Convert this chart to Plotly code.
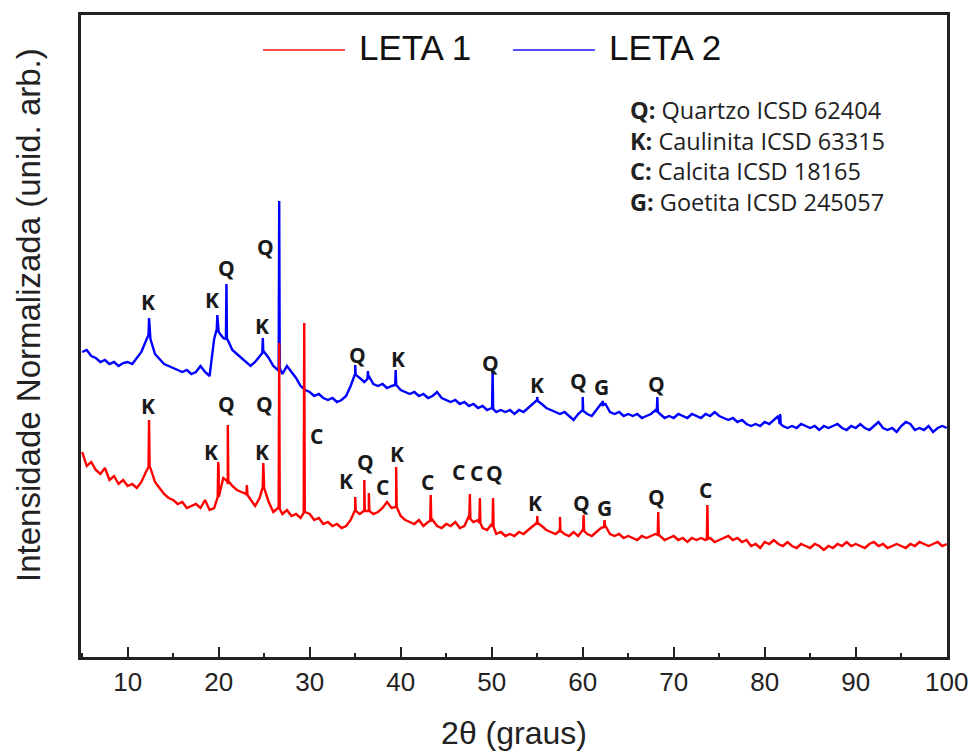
import numpy as np
import plotly.graph_objects as go

# ---------------- data (arbitrary normalised intensity units) ----------------
two_theta_start = 5.0
two_theta_step = 0.5

# LETA 1 background pattern, 5.0 .. 100.0 step 0.5
leta1_base = [
    205, 191, 195, 187, 183, 189, 177, 181, 173, 177,
    171, 173, 169, 175, 185, 189, 175, 169, 163, 159,
    157, 153, 155, 149, 151, 153, 149, 157, 147, 149,
    187, 179, 173, 171, 167, 165, 163, 157, 151, 159,
    169, 155, 145, 149, 143, 147, 141, 143, 139, 145,
    143, 137, 139, 133, 135, 131, 133, 129, 131, 137,
    147, 143, 145, 147, 143, 145, 149, 155, 149, 151,
    141, 137, 135, 133, 137, 131, 135, 137, 131, 129,
    133, 131, 135, 129, 131, 141, 135, 137, 129, 127,
    133, 123, 125, 121, 123, 121, 125, 123, 127, 131,
    137, 131, 127, 125, 123, 129, 123, 121, 125, 121,
    127, 123, 121, 125, 129, 131, 123, 121, 123, 119,
    121, 119, 117, 121, 119, 121, 123, 121, 117, 119,
    121, 117, 119, 115, 119, 117, 119, 117, 119, 115,
    117, 119, 121, 117, 119, 115, 117, 111, 113, 109,
    115, 113, 117, 113, 111, 115, 111, 109, 113, 111,
    109, 113, 111, 107, 111, 109, 113, 111, 115, 111,
    113, 111, 109, 113, 115, 111, 113, 109, 111, 113,
    111, 109, 113, 111, 115, 113, 111, 113, 115, 111,
    113,
]

# LETA 2 background pattern, 5.0 .. 100.0 step 0.5
leta2_base = [
    305, 307, 301, 299, 295, 297, 293, 295, 291, 294,
    295, 293, 299, 305, 316, 318, 303, 298, 293, 291,
    289, 287, 285, 287, 283, 285, 291, 285, 281, 318,
    325, 319, 317, 307, 303, 299, 295, 291, 295, 301,
    305, 299, 291, 287, 283, 291, 285, 279, 271, 267,
    265, 261, 263, 259, 257, 259, 255, 257, 261, 271,
    283, 279, 275, 281, 273, 271, 273, 269, 271, 273,
    267, 265, 263, 265, 261, 263, 259, 261, 265, 259,
    257, 255, 257, 253, 255, 251, 253, 249, 251, 247,
    249, 245, 247, 245, 247, 243, 247, 245, 249, 253,
    257, 253, 249, 247, 245, 243, 245, 241, 237, 243,
    247, 243, 241, 247, 253, 253, 245, 243, 245, 241,
    243, 241, 243, 239, 241, 243, 247, 243, 239, 241,
    239, 243, 241, 239, 243, 241, 239, 243, 241, 245,
    241, 239, 237, 239, 235, 237, 233, 231, 233, 231,
    235, 233, 237, 241, 231, 229, 231, 229, 233, 231,
    229, 231, 227, 231, 229, 231, 233, 229, 227, 231,
    229, 233, 229, 227, 231, 235, 229, 227, 229, 225,
    231, 235, 233, 227, 229, 227, 231, 225, 229, 231,
    229,
]

# sharp reflections: position, local background, peak top
leta1_peak_x = [12.35, 19.95, 21.0, 23.1, 24.9, 26.65, 29.4, 35.0, 36.0, 36.5, 39.5,
                43.3, 47.6, 48.7, 50.15, 55.0, 57.5, 60.1, 62.4, 68.3, 73.7]
leta1_peak_base = [190, 160, 176, 162, 170, 148, 144, 146, 146, 146, 150,
                   136, 138, 134, 130, 134, 126, 126, 130, 122, 118]
leta1_peak_top = [237, 195, 232, 172, 194, 314, 334, 160, 177, 164, 190,
                  162, 163, 159, 159, 141, 140, 142, 137, 145, 152]

leta2_peak_x = [12.35, 19.85, 20.85, 24.85, 26.65, 35.0, 36.4, 39.45, 50.1, 55.0,
                60.0, 62.2, 68.2, 81.7]
leta2_peak_base = [322, 328, 318, 304, 289, 282, 278, 272, 248, 256,
                   246, 252, 245, 233]
leta2_peak_top = [339, 342, 373, 319, 456, 292, 286, 287, 287, 260,
                  260, 256, 260, 243]

# phase labels
leta2_label_text = ["K", "K", "Q", "K", "Q", "Q", "K", "Q", "K", "Q", "G", "Q"]
leta2_label_x = [12.24, 19.28, 20.82, 24.78, 25.11, 35.23, 39.74, 49.86, 55.03, 59.54, 62.07, 68.12]
leta2_label_y = [355, 357, 389, 331, 410, 302, 298, 294, 272, 276, 270, 273]

leta1_label_text = ["K", "Q", "Q", "K", "K", "C", "K", "Q", "C", "K", "C", "C", "C", "Q",
                    "K", "Q", "G", "Q", "C"]
leta1_label_x = [12.24, 20.82, 25.0, 19.17, 24.78, 30.72, 34.02, 36.11, 37.98, 39.63, 42.93,
                 46.34, 48.32, 50.30, 54.81, 59.87, 62.40, 68.12, 73.51]
leta1_label_y = [251, 253, 253, 205, 205, 221, 176, 195, 170, 203, 175,
                 185, 184, 184, 154, 154, 149, 160, 167]

phase_legend = [("Q:", "Quartzo ICSD 62404"),
                ("K:", "Caulinita ICSD 63315"),
                ("C:", "Calcita ICSD 18165"),
                ("G:", "Goetita ICSD 245057")]

series_names = ["LETA 1", "LETA 2"]
series_colors = ["#ff0000", "#0000ff"]


def build(base, pk_x, pk_b, pk_t):
    grid = np.round(two_theta_start + two_theta_step * np.arange(len(base)), 3)
    pts = list(zip(grid.tolist(), base))
    for x, b, t in zip(pk_x, pk_b, pk_t):
        pts += [(x - 0.06, b), (x, t), (x + 0.06, b)]
    pts.sort(key=lambda p: p[0])
    xs, ys = zip(*pts)
    return list(xs), list(ys)


x1, y1 = build(leta1_base, leta1_peak_x, leta1_peak_base, leta1_peak_top)
x2, y2 = build(leta2_base, leta2_peak_x, leta2_peak_base, leta2_peak_top)

fig = go.Figure()
fig.add_trace(go.Scatter(x=x2, y=y2, mode="lines", name=series_names[1],
                         line=dict(color=series_colors[1], width=2.4), showlegend=False))
fig.add_trace(go.Scatter(x=x1, y=y1, mode="lines", name=series_names[0],
                         line=dict(color=series_colors[0], width=2.4), showlegend=False))

annotations = []
lab_font = dict(family="Open Sans", size=21, color="#1a1a1a")
for t, x, y in zip(leta2_label_text + leta1_label_text,
                   leta2_label_x + leta1_label_x,
                   leta2_label_y + leta1_label_y):
    annotations.append(dict(x=x, y=y, xref="x", yref="y", text=f"<b>{t}</b>",
                            showarrow=False, font=lab_font, xanchor="center", yanchor="middle"))

# phase list box (top right) as one multi-line text block
info_text = "<br>".join(f"<b>{k}</b> {txt}" for k, txt in phase_legend)
annotations.append(dict(x=0.6316, y=0.781, xref="paper", yref="paper",
                        text=info_text, showarrow=False, align="left",
                        font=dict(family="Open Sans", size=23.5, color="#222"),
                        xanchor="left", yanchor="middle"))

# manual legend
leg_font = dict(family="Liberation Sans", size=35, color="#111")
shapes = []
for (x0, x1_, tx), name, col in zip([(0.2102, 0.3048, 0.3187), (0.4988, 0.5935, 0.6074)],
                                    series_names, ["#ff5050", "#5050ff"]):
    shapes.append(dict(type="line", xref="paper", yref="paper", x0=x0, x1=x1_,
                       y0=0.9455, y1=0.9455, line=dict(color=col, width=2)))
    annotations.append(dict(x=tx, y=0.9486, xref="paper", yref="paper", text=name,
                            showarrow=False, font=leg_font, xanchor="left", yanchor="middle"))

# y-axis title
annotations.append(dict(x=-0.0612, y=0.5327, xref="paper", yref="paper",
                        text="Intensidade Normalizada (unid. arb.)", textangle=-90,
                        showarrow=False, xanchor="center", yanchor="middle",
                        font=dict(family="Liberation Sans", size=33, color="#222")))

fig.update_layout(
    width=976, height=752,
    margin=dict(l=81, r=29, t=15, b=95, autoexpand=False),
    plot_bgcolor="white", paper_bgcolor="white",
    annotations=annotations, shapes=shapes,
    showlegend=False,
)
fig.update_xaxes(
    range=[4.87, 100.03], showline=True, linewidth=3, linecolor="#222", mirror=True,
    ticks="inside", ticklen=10, tickwidth=2, tickcolor="#222", tick0=0, dtick=10,
    minor=dict(dtick=5, tick0=0, ticks="inside", ticklen=4, tickwidth=2, tickcolor="#222"),
    showgrid=False, zeroline=False, automargin=False,
    tickfont=dict(family="Liberation Sans", size=26, color="#222"),
    title=dict(text="2θ (graus)", font=dict(family="Liberation Sans", size=32, color="#222"),
               standoff=26),
)
fig.update_yaxes(
    range=[0, 642], showline=True, linewidth=3, linecolor="#222", mirror=True,
    ticks="", showticklabels=False, showgrid=False, zeroline=False, automargin=False,
)

fig.write_html("out.html")
